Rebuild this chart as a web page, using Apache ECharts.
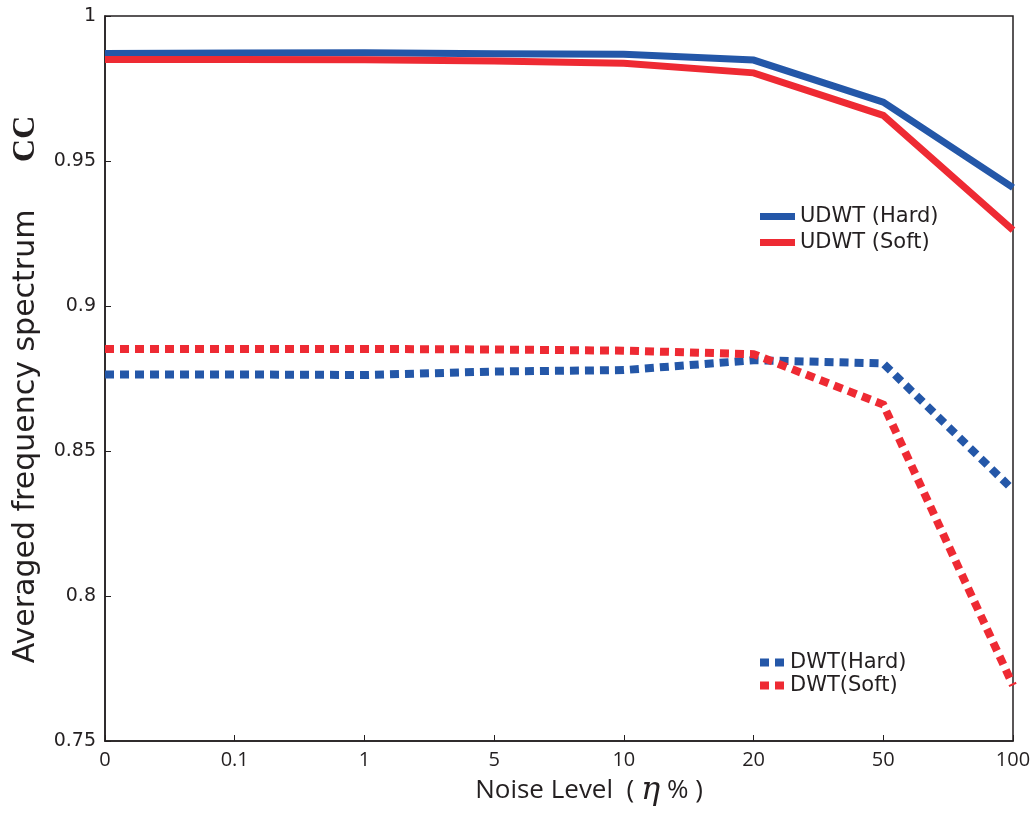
<!DOCTYPE html>
<html>
<head>
<meta charset="utf-8">
<script src="https://cdn.jsdelivr.net/npm/echarts@6/dist/echarts.min.js"></script>
<style>html,body{margin:0;padding:0;background:#fff;}#c{width:1030px;height:813px;}</style>
</head>
<body>
<div id="c"></div>
<script>
const categories = ['0', '0.1', '1', '5', '10', '20', '50', '100'];
const udwtHard = [0.9871, 0.9872, 0.9873, 0.9870, 0.9868, 0.9848, 0.9703, 0.9408];
const udwtSoft = [0.9850, 0.9850, 0.9849, 0.9845, 0.9837, 0.9804, 0.9657, 0.9262];
const dwtHard  = [0.8764, 0.8764, 0.8762, 0.8774, 0.8779, 0.8813, 0.8802, 0.8366];
const dwtSoft  = [0.8852, 0.8852, 0.8852, 0.8850, 0.8846, 0.8834, 0.8660, 0.7692];
const yTicks = { min: 0.75, max: 1, step: 0.05 };

const BLUE = '#2457a8';
const RED = '#ee2a33';
const INK = '#231f20';
const FONT = '"Open Sans", "Noto Sans", sans-serif';
const WIDE = '"DejaVu Sans", sans-serif';

function lineSeries(name, data, color, dashed) {
  return {
    name, type: 'line', data,
    showSymbol: false, symbol: 'none',
    color,
    itemStyle: { color },
    lineStyle: { color, width: dashed ? 8 : 7, type: dashed ? [9, 6] : 'solid', join: 'miter' },
    animation: false
  };
}

const chart = echarts.init(document.getElementById('c'), null, { renderer: 'canvas' });
chart.setOption({
  backgroundColor: '#fff',
  animation: false,
  grid: { left: 105, right: 17, top: 16, bottom: 72, containLabel: false, outerBoundsMode: 'none',
          show: true, borderColor: INK, borderWidth: 1.5, backgroundColor: 'transparent' },
  legend: [
    {
      data: ['UDWT (Hard)', 'UDWT (Soft)'],
      orient: 'vertical', left: 755, top: 201,
      icon: 'rect', itemWidth: 35, itemHeight: 7, itemGap: 5,
      textStyle: { fontFamily: WIDE, fontSize: 21, color: INK }
    },
    {
      data: ['DWT(Hard)', 'DWT(Soft)'],
      orient: 'vertical', left: 755, top: 647,
      icon: 'path://M0,0h9v8h-9z M15,0h9v8h-9z', itemWidth: 26, itemHeight: 8, itemGap: 2,
      textStyle: { fontFamily: WIDE, fontSize: 21, color: INK }
    }
  ],
  xAxis: {
    type: 'category', data: categories, boundaryGap: false,
    axisLine: { lineStyle: { color: INK, width: 1.5 } },
    axisTick: { inside: true, length: 6, alignWithLabel: true, lineStyle: { color: INK } },
    axisLabel: { fontFamily: FONT, fontSize: 20, color: INK, margin: 9 },
    splitLine: { show: false },
    name: '{n|Noise Level  ( }{e|η}{n| % )}',
    nameLocation: 'middle', nameGap: 32,
    nameTextStyle: {
      padding: [0, 0, 0, 60],
      rich: {
        n: { fontFamily: FONT, fontSize: 26, color: INK },
        e: { fontFamily: '"DejaVu Serif", serif', fontStyle: 'italic', fontSize: 32, color: INK }
      }
    }
  },
  yAxis: {
    type: 'value', min: yTicks.min, max: yTicks.max, interval: yTicks.step,
    axisLine: { show: true, lineStyle: { color: INK, width: 1.5 } },
    axisTick: { show: true, inside: true, length: 6, lineStyle: { color: INK } },
    axisLabel: { fontFamily: WIDE, fontSize: 19, color: INK, margin: 9 },
    splitLine: { show: false },
    name: '{a|Averaged frequency spectrum     }{b|CC}',
    nameLocation: 'middle', nameGap: 63, nameRotate: 90,
    nameTextStyle: {
      padding: [0, 22, 0, 0],
      rich: {
        a: { fontFamily: WIDE, fontSize: 30, color: INK },
        b: { fontFamily: '"Liberation Serif", "DejaVu Serif", serif', fontWeight: 'bold', fontSize: 32, color: INK }
      }
    }
  },
  series: [
    lineSeries('UDWT (Hard)', udwtHard, BLUE, false),
    lineSeries('UDWT (Soft)', udwtSoft, RED, false),
    lineSeries('DWT(Hard)', dwtHard, BLUE, true),
    lineSeries('DWT(Soft)', dwtSoft, RED, true)
  ]
});
</script>
</body>
</html>
